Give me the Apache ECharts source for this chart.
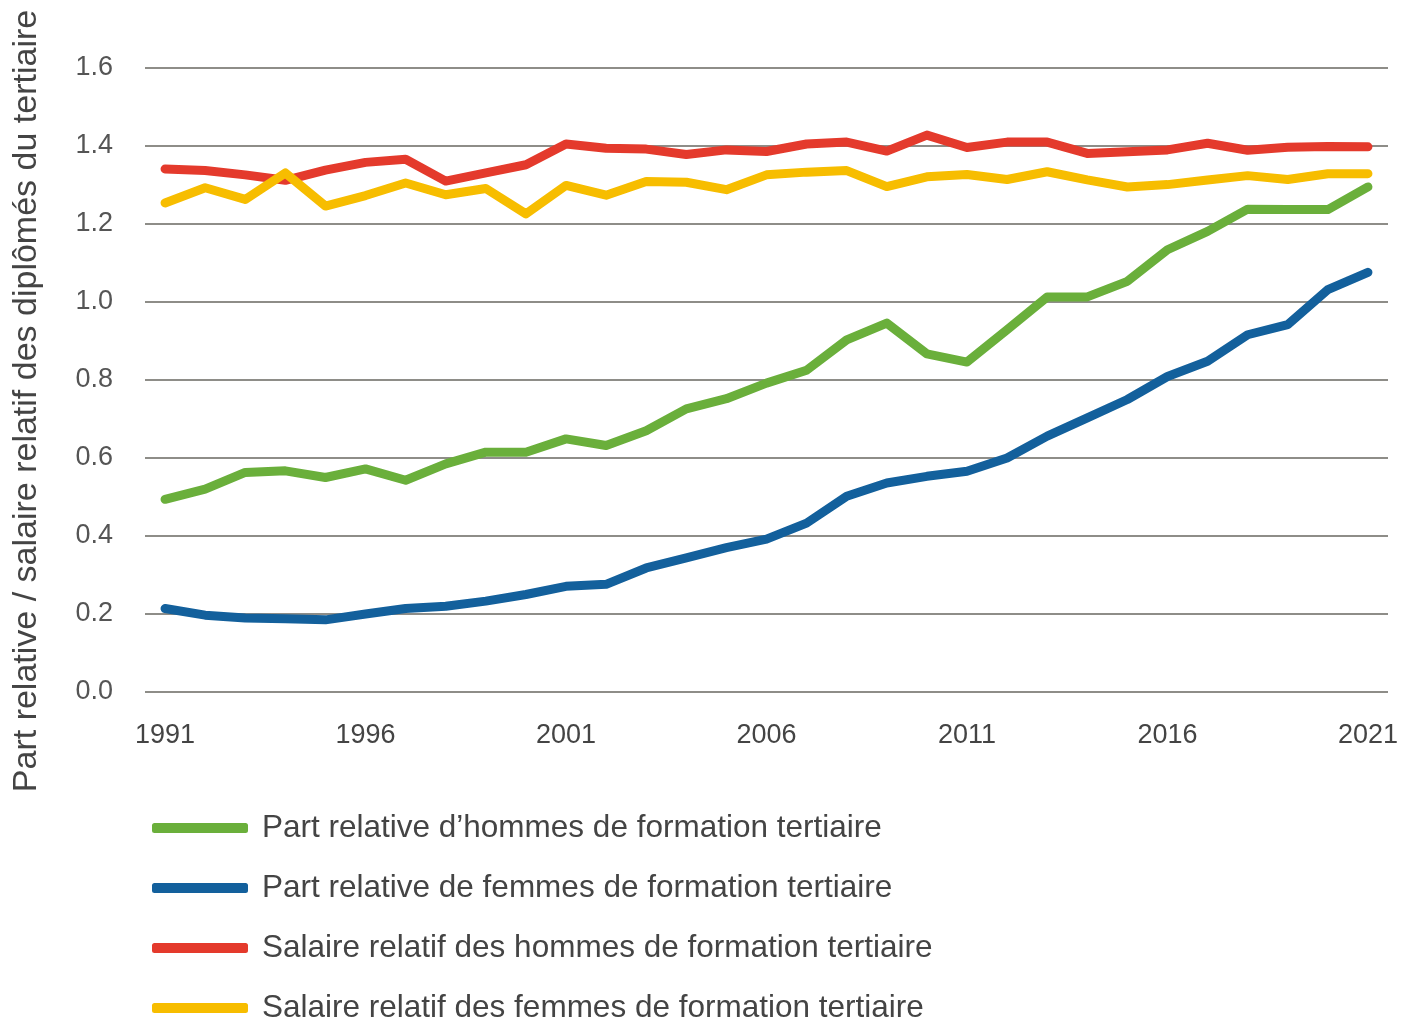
<!DOCTYPE html>
<html>
<head>
<meta charset="utf-8">
<script src="https://cdn.jsdelivr.net/npm/echarts@6/dist/echarts.min.js"></script>
<style>
html,body{margin:0;padding:0;background:#fff;}
#chart{width:1402px;height:1020px;}
</style>
</head>
<body>
<div id="chart"></div>
<script>
const years = ['1991','1992','1993','1994','1995','1996','1997','1998','1999','2000','2001','2002','2003','2004','2005','2006','2007','2008','2009','2010','2011','2012','2013','2014','2015','2016','2017','2018','2019','2020','2021'];
const yTicks = [0, 0.2, 0.4, 0.6, 0.8, 1.0, 1.2, 1.4, 1.6];
const seriesNames = [
  'Part relative d\u2019hommes de formation tertiaire',
  'Part relative de femmes de formation tertiaire',
  'Salaire relatif des hommes de formation tertiaire',
  'Salaire relatif des femmes de formation tertiaire'
];
const partHommes = [0.494,0.520,0.563,0.567,0.550,0.572,0.543,0.585,0.615,0.615,0.649,0.632,0.670,0.726,0.752,0.792,0.825,0.903,0.946,0.867,0.846,0.929,1.013,1.013,1.053,1.134,1.181,1.238,1.237,1.237,1.295];
const partFemmes = [0.214,0.197,0.190,0.188,0.185,0.200,0.214,0.220,0.233,0.250,0.271,0.276,0.318,0.344,0.370,0.392,0.433,0.502,0.536,0.553,0.566,0.600,0.656,0.703,0.750,0.809,0.848,0.916,0.942,1.032,1.076];
const salaireHommes = [1.341,1.337,1.326,1.312,1.338,1.358,1.366,1.310,1.331,1.352,1.405,1.394,1.392,1.378,1.390,1.386,1.405,1.410,1.387,1.428,1.396,1.410,1.410,1.381,1.385,1.390,1.407,1.389,1.397,1.399,1.398];
const salaireFemmes = [1.254,1.293,1.263,1.331,1.246,1.273,1.305,1.275,1.291,1.226,1.299,1.274,1.309,1.307,1.288,1.326,1.333,1.337,1.296,1.321,1.327,1.314,1.334,1.313,1.295,1.301,1.313,1.324,1.314,1.329,1.329];
const colors = ['#6aaf3b', '#13609c', '#e43a2c', '#f7bd00'];

const chart = echarts.init(document.getElementById('chart'));
const dataSets = [partHommes, partFemmes, salaireHommes, salaireFemmes];
chart.setOption({
  animation: false,
  backgroundColor: '#ffffff',
  textStyle: { fontFamily: 'Liberation Sans, Arial, sans-serif' },
  grid: { left: 145, right: 14, top: 68, bottom: 328, containLabel: false },
  legend: seriesNames.map(function (n, i) {
    return {
      orient: 'horizontal',
      left: 152,
      top: 812 + i * 60,
      padding: 0,
      itemWidth: 96,
      itemHeight: 10,
      icon: 'roundRect',
      textStyle: { fontSize: 31.5, color: '#444', lineHeight: 32, padding: [0, 0, 0, 9] },
      data: [n]
    };
  }),
  xAxis: {
    type: 'category',
    data: years,
    boundaryGap: true,
    axisLine: { show: false },
    axisTick: { show: false },
    axisLabel: {
      interval: 4,
      fontSize: 27,
      color: '#444',
      margin: 30
    }
  },
  yAxis: {
    type: 'value',
    min: yTicks[0],
    max: yTicks[yTicks.length - 1],
    interval: 0.2,
    name: 'Part relative / salaire relatif des dipl\u00f4m\u00e9s du tertiaire',
    nameLocation: 'middle',
    nameGap: 101,
    nameTextStyle: { fontSize: 34, color: '#444', padding: [0, 42, 0, 0] },
    axisLine: { show: false },
    axisTick: { show: false },
    axisLabel: {
      fontSize: 27,
      color: '#555',
      margin: 32,
      formatter: function (v) { return v.toFixed(1); }
    },
    splitLine: { lineStyle: { color: '#8e8d88', width: 2 } }
  },
  series: dataSets.map(function (d, i) {
    return {
      name: seriesNames[i],
      type: 'line',
      data: d,
      symbol: 'none',
      smooth: false,
      color: colors[i],
      lineStyle: { width: 9, color: colors[i], cap: 'round', join: 'round' }
    };
  })
});
</script>
</body>
</html>
